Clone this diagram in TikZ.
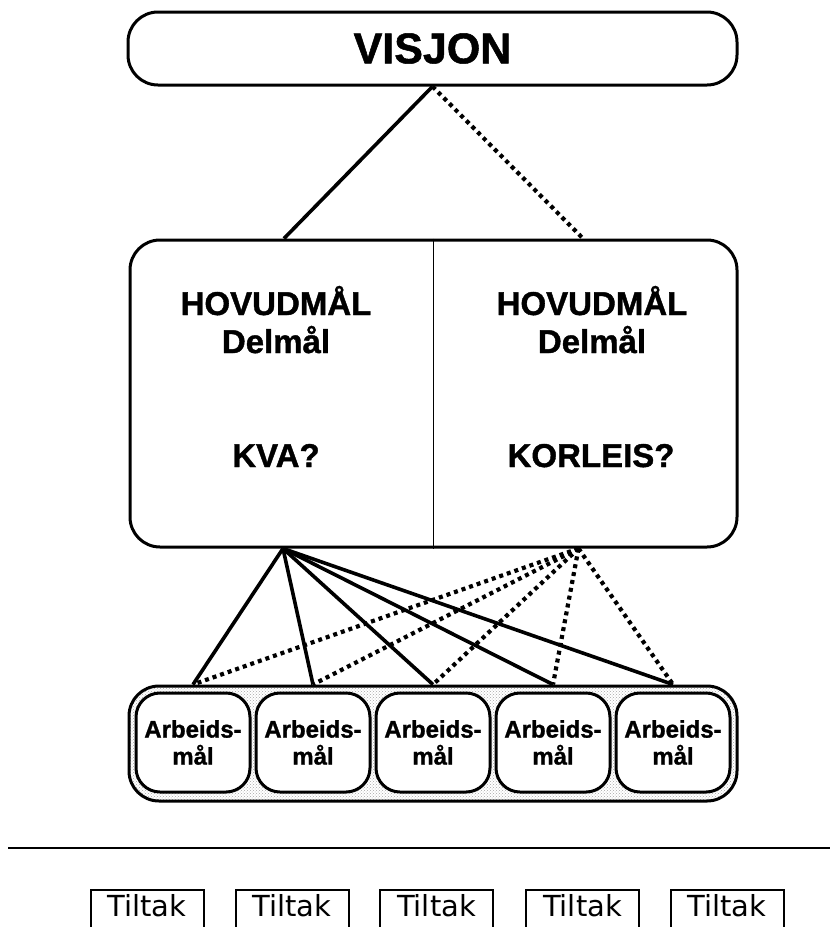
\documentclass[tikz,border=0pt]{standalone}
\usepackage{fontspec}
\setmainfont{Liberation Sans}
\newfontfamily\tjukkfont[FakeBold=1.2]{Liberation Sans Bold}
\newfontfamily\tiltakfont{DejaVu Sans}
\usetikzlibrary{
  positioning,
  patterns}

\tikzset{
  boks/.style={draw, line width=3pt, fill=white},
  heil/.style={line width=3.6pt},
  prikk/.style={line width=4.2pt, dash pattern=on 4pt off 4pt},
  overskrift/.style={anchor=base, font=\fontsize{33}{38}\tjukkfont},
  arbeid/.style={boks, rounded corners=24pt, minimum width=114pt, minimum height=99pt,
    align=center, font=\fontsize{24}{27}\tjukkfont},
  tiltak/.style={draw, line width=2pt, anchor=base, minimum width=113pt,
    inner ysep=0pt, text height=26pt, text depth=30pt, font=\fontsize{29}{29}\tiltakfont},
}

\begin{document}
\begin{tikzpicture}[x=1pt, y=-1pt]
\useasboundingbox (0,0) rectangle (830,927);

% visjon
\node[boks, rounded corners=30pt, minimum width=609pt, minimum height=73pt,
  font=\fontsize{43}{43}\tjukkfont] (visjon) at (432.5,48.5) {VISJON};

% hovudmaal
\node[boks, rounded corners=30pt, minimum width=607pt, minimum height=307pt] (mal) at (433.5,393.5) {};
\draw[line width=1.8pt] (mal.north) -- (mal.south);

\node[overskrift] (hovud1) at (276,315) {HOVUDMÅL};
\node[overskrift] (del1) at (276,353) {Delmål};
\node[overskrift] (kva) at (276,467) {KVA?};
\node[overskrift] (hovud2) at (592,315) {HOVUDMÅL};
\node[overskrift] (del2) at (592,353) {Delmål};
\node[overskrift] (korleis) at (591,467) {KORLEIS?};

\coordinate (topp1) at ([xshift=-149.5pt]mal.north);
\coordinate (topp2) at ([xshift=149.5pt]mal.north);
\coordinate (botn1) at ([xshift=-150.5pt]mal.south);
\coordinate (botn2) at ([xshift=145pt]mal.south);

\draw[heil] (visjon.south) -- (topp1);
\draw[prikk] (visjon.south) -- (topp2);

% arbeidsmaal
\node[boks, rounded corners=30pt, minimum width=608pt, minimum height=115pt,
  fill=gray!30, pattern=crosshatch dots, pattern color=gray!70] (rad) at (433,743.5) {};

\foreach[count=\k] \x in {193,313,433,553,673} {
  \node[arbeid] (arb\k) at (\x,742.5) {Arbeids-\\mål};
  \draw[heil] (botn1) -- (rad.north -| arb\k);
  \draw[prikk] (botn2) -- (rad.north -| arb\k);
}

\draw[line width=2.4pt] (8,848) -- (830,848);

% tiltak
\foreach[count=\k] \x in {147,292,436.5,582.5,727} {
  \node[tiltak] (tiltak\k) at (\x,916) {Tiltak};
}

\end{tikzpicture}
\end{document}
